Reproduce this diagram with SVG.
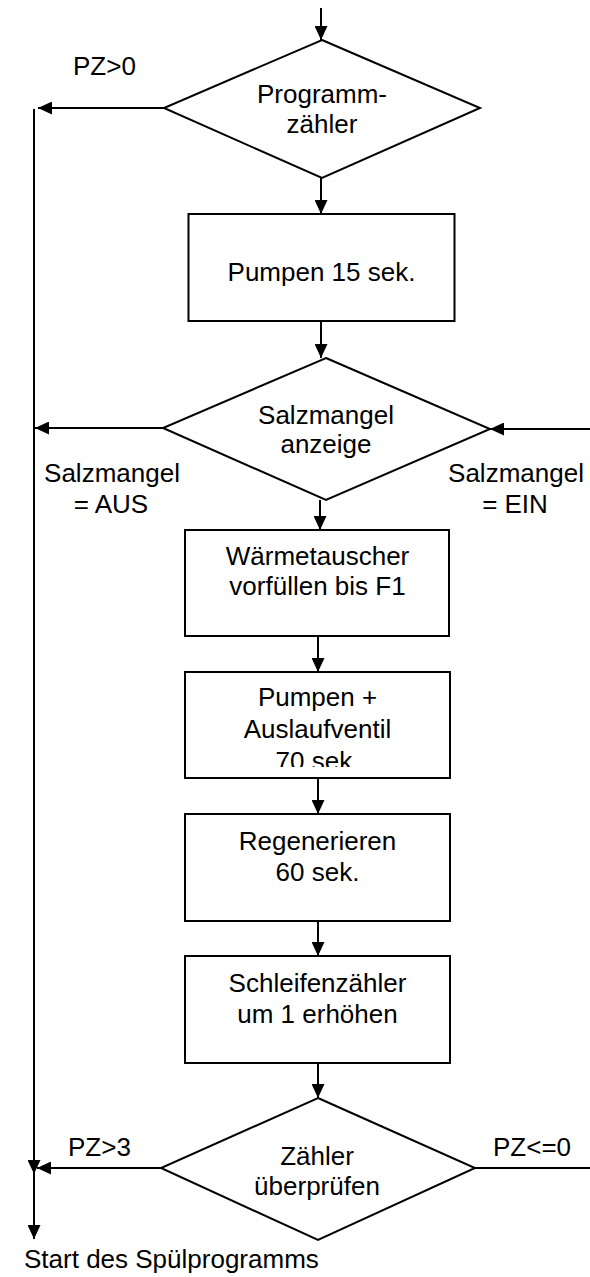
<svg xmlns="http://www.w3.org/2000/svg" width="590" height="1277" viewBox="0 0 590 1277">
<style>
.s{fill:#fff;stroke:#000;stroke-width:2}
.c{fill:none;stroke:#000;stroke-width:2}
.a{marker-end:url(#ah)}
text{font-family:"Liberation Sans",Arial,sans-serif;font-size:26px;fill:#000}
.m{text-anchor:middle}
</style>
<defs>
<marker id="ah" markerUnits="userSpaceOnUse" markerWidth="14" markerHeight="13" viewBox="0 0 14 13" refX="14" refY="6.5" orient="auto">
<path d="M0,0 L14,6.5 L0,13 z" fill="#000"/>
</marker>
<clipPath id="clip70"><rect x="185" y="672" width="265" height="95"/></clipPath>
</defs>
<rect width="590" height="1277" fill="#fff"/>
<g id="connectors">
<line class="c a" x1="321" y1="8" x2="321" y2="40"/>
<line class="c a" x1="321" y1="178" x2="321" y2="214"/>
<line class="c a" x1="321" y1="321" x2="321" y2="358"/>
<line class="c a" x1="320" y1="500" x2="320" y2="530"/>
<line class="c a" x1="318" y1="636" x2="318" y2="672"/>
<line class="c a" x1="318" y1="778" x2="318" y2="814"/>
<line class="c a" x1="318" y1="921" x2="318" y2="956"/>
<line class="c a" x1="318" y1="1063" x2="318" y2="1098"/>
<line class="c a" x1="164" y1="108" x2="38" y2="108"/>
<line class="c a" x1="163" y1="428" x2="35" y2="428"/>
<line class="c a" x1="590" y1="429" x2="490" y2="429"/>
<line class="c a" x1="161" y1="1168" x2="37" y2="1168"/>
<line class="c" x1="475" y1="1168" x2="590" y2="1168"/>
<line class="c a" x1="34" y1="109" x2="34" y2="1174"/>
<line class="c a" x1="34" y1="1168" x2="34" y2="1239"/>
</g>
<g id="d1">
<polygon class="s" points="322,40 480,108 322,178 164,108"/>
<text class="m" x="322" y="103">Programm-</text>
<text class="m" x="322" y="133">zähler</text>
</g>
<g id="b1">
<rect class="s" x="188.5" y="214" width="266" height="107"/>
<text class="m" x="321.5" y="281">Pumpen 15 sek.</text>
</g>
<g id="d2">
<polygon class="s" points="326,358 490,429 326,500 163,428"/>
<text class="m" x="326" y="424">Salzmangel</text>
<text class="m" x="326" y="453">anzeige</text>
</g>
<g id="b2">
<rect class="s" x="185" y="530" width="264" height="106"/>
<text class="m" x="317.5" y="565">Wärmetauscher</text>
<text class="m" x="317.5" y="595">vorfüllen bis F1</text>
</g>
<g id="b3">
<rect class="s" x="185" y="672" width="265" height="106"/>
<text class="m" x="317.5" y="706">Pumpen +</text>
<text class="m" x="317.5" y="738">Auslaufventil</text>
<text class="m" x="317.5" y="770" clip-path="url(#clip70)">70 sek.</text>
</g>
<g id="b4">
<rect class="s" x="185" y="814" width="265" height="107"/>
<text class="m" x="317.5" y="850">Regenerieren</text>
<text class="m" x="317.5" y="881">60 sek.</text>
</g>
<g id="b5">
<rect class="s" x="185" y="956" width="265" height="107"/>
<text class="m" x="317.5" y="992">Schleifenzähler</text>
<text class="m" x="317.5" y="1023">um 1 erhöhen</text>
</g>
<g id="d3">
<polygon class="s" points="318,1098 475,1168 318,1240 161,1168"/>
<text class="m" x="317" y="1165">Zähler</text>
<text class="m" x="317" y="1195">überprüfen</text>
</g>
<g id="labels">
<text x="73" y="75">PZ&gt;0</text>
<text class="m" x="112" y="482">Salzmangel</text>
<text class="m" x="111" y="513">= AUS</text>
<text class="m" x="516" y="482">Salzmangel</text>
<text class="m" x="515" y="513">= EIN</text>
<text x="68" y="1156">PZ&gt;3</text>
<text x="493" y="1156">PZ&lt;=0</text>
<text x="24" y="1268">Start des Spülprogramms</text>
</g>
</svg>
